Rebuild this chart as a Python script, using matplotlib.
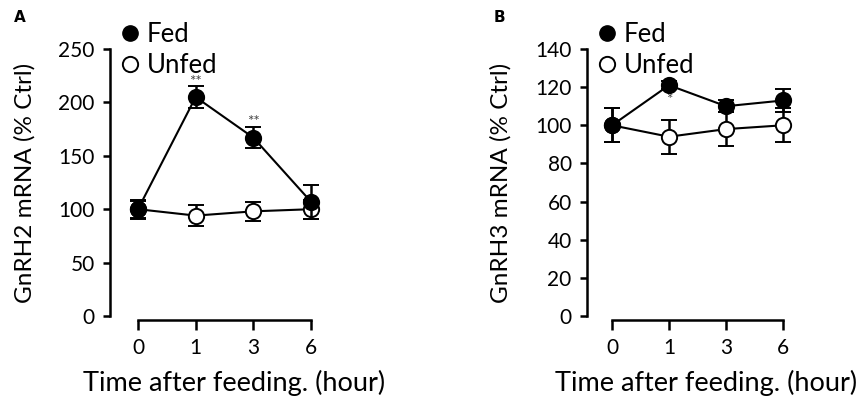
import matplotlib
matplotlib.use("Agg")
import matplotlib.pyplot as plt
from matplotlib.lines import Line2D

plt.rcParams['font.family'] = ['Lato', 'DejaVu Sans']

hours = ["0", "1", "3", "6"]

a_fed = [100, 205, 167, 107]
a_fed_err = [9, 10, 10, 16]
a_unfed = [100, 94, 98, 100]
a_unfed_err = [8, 9.5, 9, 9]
a_stars = ["", "**", "**", ""]

b_fed = [100, 121, 110, 113]
b_fed_err = [9, 2, 3, 6]
b_unfed = [100, 94, 98, 100]
b_unfed_err = [9, 9, 9, 9]
b_stars = ["", "*", "", ""]

a_yticks = [0, 50, 100, 150, 200, 250]
b_yticks = [0, 20, 40, 60, 80, 100, 120, 140]

W, H = 862, 400
fig = plt.figure(figsize=(W / 100, H / 100), dpi=100)


def make_panel(left_px, x0_px, x3_px, ymax, yticks, fed, fed_err, unfed, unfed_err,
               stars, star_pos, ylabel, letter, letter_x, ylab_x, leg_x, xlab_cx):
    top_px, bottom_px = 49, 316
    ppu = (x3_px - x0_px) / 3.0
    right_px = x3_px + 25
    wpx = right_px - left_px
    ax = fig.add_axes([left_px / W, 1 - bottom_px / H, wpx / W,
                       (bottom_px - top_px) / H])
    xs = list(range(len(hours)))
    ax.set_xlim(-(x0_px - left_px) / ppu, 3 + 25 / ppu)
    ax.set_ylim(0, ymax)
    ax.errorbar(xs, unfed, yerr=unfed_err, color='black', lw=1.5, marker='o',
                ms=11, mfc='white', mec='black', mew=1.4, capsize=5.5, capthick=1.8,
                elinewidth=1.8, zorder=3)
    ax.errorbar(xs, fed, yerr=fed_err, color='black', lw=1.5, marker='o',
                ms=11, mfc='black', mec='black', mew=1.4, capsize=5.5, capthick=1.8,
                elinewidth=1.8, zorder=4)
    for x, s, p in zip(xs, stars, star_pos):
        if s:
            ax.text(x, p, s, ha='center', va='center', fontsize=11, color='#444444')
    for s in ['top', 'right']:
        ax.spines[s].set_visible(False)
    ax.spines['left'].set_bounds(0, ymax)
    ax.spines['bottom'].set_position(('outward', 3))
    ax.spines['bottom'].set_bounds(0, 3)
    for s in ['left', 'bottom']:
        ax.spines[s].set_linewidth(1.8)
    ax.set_yticks(yticks)
    ax.set_xticks(xs)
    ax.set_xticklabels(hours)
    ax.tick_params(axis='y', direction='out', length=5, width=1.8, labelsize=15,
                   pad=6, colors='black')
    ax.tick_params(axis='x', direction='out', length=7, width=1.8, labelsize=15,
                   pad=6)
    ax.set_ylabel(ylabel, fontsize=17.5)
    ax.yaxis.set_label_coords((ylab_x - left_px) / wpx, 0.5)
    ax.set_xlabel("Time after feeding. (hour)", fontsize=19.5)
    ax.xaxis.set_label_coords((xlab_cx - left_px) / wpx,
                              -(383 - bottom_px) / (bottom_px - top_px))
    ax.xaxis.label.set_va('center')
    ax.yaxis.label.set_va('center')
    ax.patch.set_alpha(0)
    handles = [
        Line2D([], [], marker='o', ls='none', ms=11, mfc='black', mec='black', color='black'),
        Line2D([], [], marker='o', ls='none', ms=11, mfc='white', mec='black', mew=1.4,
               color='black'),
    ]
    ax.legend(handles, ["Fed", "Unfed"], loc='upper left',
              bbox_to_anchor=(leg_x / W, 1 - 22 / H), bbox_transform=fig.transFigure,
              frameon=False, fontsize=18.5, handlelength=0.6, handletextpad=0.35,
              labelspacing=0.25, borderaxespad=0, borderpad=0)
    fig.text(letter_x / W, 1 - 18 / H, letter, fontsize=11, fontweight='bold',
             ha='left', va='center', family='DejaVu Sans')
    return ax


make_panel(110, 138, 311, 250, a_yticks, a_fed, a_fed_err, a_unfed, a_unfed_err,
           a_stars, [0, 219, 182, 0], "GnRH2 mRNA (% Ctrl)", "A", 14, 25, 122, 234)
make_panel(587, 612, 783, 140, b_yticks, b_fed, b_fed_err, b_unfed, b_unfed_err,
           b_stars, [0, 113, 0, 0], "GnRH3 mRNA (% Ctrl)", "B", 494, 501, 599, 706)

fig.savefig("out.png", dpi=100)
